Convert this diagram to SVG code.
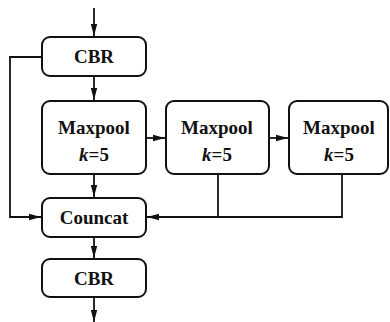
<svg xmlns="http://www.w3.org/2000/svg" width="390" height="322" viewBox="0 0 390 322">
  <style>
    .box { fill: #ffffff; stroke: #111111; stroke-width: 2; }
    .lbl { font-family: 'Liberation Serif', 'DejaVu Serif', serif; font-size: 19px; font-weight: 700; fill: #111111; text-anchor: middle; }
    .it { font-style: italic; }
    .wire { fill: none; stroke: #111111; stroke-width: 1.8; }
  </style>
  <defs>
    <marker id="arrow" viewBox="0 0 12 8" refX="12" refY="4" markerWidth="12" markerHeight="8" markerUnits="userSpaceOnUse" orient="auto">
      <path d="M0,0.8 L12,4 L0,7.2 Z" fill="#111111"/>
    </marker>
  </defs>
  <rect width="390" height="322" fill="#ffffff"/>

  <!-- connectors -->
  <g id="connectors">
    <path class="wire" d="M94,8 V36" marker-end="url(#arrow)"/>
    <path class="wire" d="M94,76 V100" marker-end="url(#arrow)"/>
    <path class="wire" d="M147,138 H165" marker-end="url(#arrow)"/>
    <path class="wire" d="M270,138 H288" marker-end="url(#arrow)"/>
    <path class="wire" d="M94,175 V197" marker-end="url(#arrow)"/>
    <path class="wire" d="M42,57 H10 V217 H41" marker-end="url(#arrow)"/>
    <path class="wire" d="M218,175 V217"/>
    <path class="wire" d="M342,175 V217 H147" marker-end="url(#arrow)"/>
    <path class="wire" d="M94,238 V258" marker-end="url(#arrow)"/>
    <path class="wire" d="M94,298 V322" marker-end="url(#arrow)"/>
  </g>

  <g id="cbr-in">
    <rect class="box" x="42" y="37" width="104" height="39" rx="8"/>
    <text class="lbl" x="94" y="63" font-family="Liberation Serif, serif">CBR</text>
  </g>
  <g id="maxpool-1">
    <rect class="box" x="42" y="101" width="104" height="73" rx="8"/>
    <text class="lbl" x="94" y="134" font-family="Liberation Serif, serif">Maxpool</text>
    <text class="lbl" x="94" y="161" font-family="Liberation Serif, serif"><tspan class="it">k</tspan>=5</text>
  </g>
  <g id="maxpool-2">
    <rect class="box" x="166" y="101" width="103" height="73" rx="8"/>
    <text class="lbl" x="217" y="134" font-family="Liberation Serif, serif">Maxpool</text>
    <text class="lbl" x="217" y="161" font-family="Liberation Serif, serif"><tspan class="it">k</tspan>=5</text>
  </g>
  <g id="maxpool-3">
    <rect class="box" x="289" y="101" width="99" height="73" rx="8"/>
    <text class="lbl" x="339" y="134" font-family="Liberation Serif, serif">Maxpool</text>
    <text class="lbl" x="339" y="161" font-family="Liberation Serif, serif"><tspan class="it">k</tspan>=5</text>
  </g>
  <g id="councat">
    <rect class="box" x="42" y="198" width="104" height="39" rx="8"/>
    <text class="lbl" x="94" y="224" font-family="Liberation Serif, serif">Councat</text>
  </g>
  <g id="cbr-out">
    <rect class="box" x="42" y="259" width="104" height="38" rx="8"/>
    <text class="lbl" x="94" y="285" font-family="Liberation Serif, serif">CBR</text>
  </g>
</svg>
